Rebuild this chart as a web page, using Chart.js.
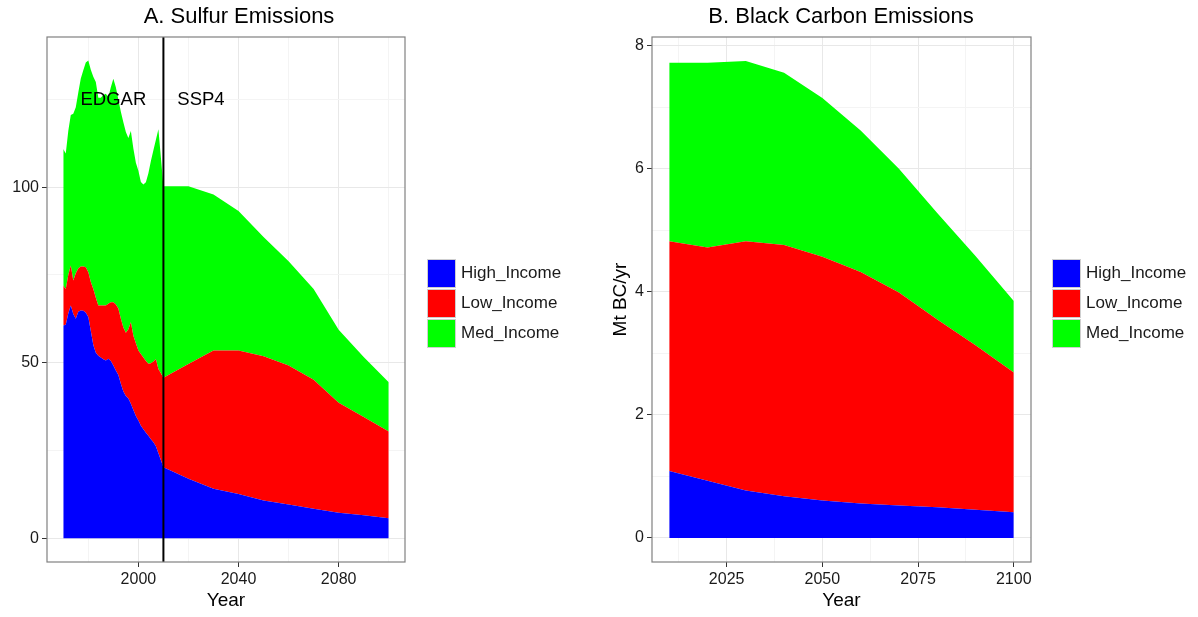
<!DOCTYPE html>
<html>
<head>
<meta charset="utf-8">
<title>Sulfur and Black Carbon Emissions</title>
<script src="https://cdn.jsdelivr.net/npm/chart.js@4.4.1/dist/chart.umd.min.js"></script>
<style>
  body { margin: 0; background: #fff; width: 1198px; height: 617px; position: relative; overflow: hidden;
         font-family: 'Liberation Sans', Arial, sans-serif; }
  canvas { position: absolute; top: 0; }
  #sulfurChart { left: 0; }
  #carbonChart { left: 590px; }
  .legend { position: absolute; top: 258px; }
  .legend .item { display: flex; align-items: center; height: 30px; }
  .legend .swatch { width: 29px; height: 29px; box-sizing: border-box; border: 1px solid #cfcfcf; }
  .legend .label { margin-left: 5px; font-size: 17px; color: #1a1a1a; }
</style>
</head>
<body>
<canvas id="sulfurChart" width="478" height="617"></canvas>
<canvas id="carbonChart" width="502" height="617"></canvas>
<div class="legend" id="sulfurLegend" style="left:427px"></div>
<div class="legend" id="carbonLegend" style="left:1052px"></div>
<script>
const seriesNames  = ['High_Income', 'Low_Income', 'Med_Income'];
const seriesColors = ['#0000ff', '#ff0000', '#00ff00'];

// Sulfur: EDGAR yearly history 1970-2008, then SSP4 by decade
const sulfurYears = [1970, 1971, 1972, 1973, 1974, 1975, 1976, 1977, 1978, 1979,
                     1980, 1981, 1982, 1983, 1984, 1985, 1986, 1987, 1988, 1989,
                     1990, 1991, 1992, 1993, 1994, 1995, 1996, 1997, 1998, 1999,
                     2000, 2001, 2002, 2003, 2004, 2005, 2006, 2007, 2008,
                     2010, 2020, 2030, 2040, 2050, 2060, 2070, 2080, 2090, 2100];
const sulfurHigh = [60.6, 60.8, 64.0, 66.3, 63.9, 62.5, 64.5, 64.9, 64.8, 64.2,
                    63.0, 59.0, 55.0, 52.8, 52.0, 51.5, 51.0, 50.6, 51.1, 50.5,
                    49.2, 47.8, 46.5, 44.0, 41.8, 40.5, 39.8, 38.3, 36.5, 34.8,
                    33.5, 32.0, 31.0, 30.0, 29.2, 28.2, 27.3, 26.2, 24.2,
                    20.2, 16.9, 14.1, 12.6, 10.7, 9.6, 8.4, 7.2, 6.5, 5.7];
const sulfurLow  = [11.4, 10.2, 11.0, 11.4, 9.5, 13.0, 12.3, 12.5, 12.6, 13.0,
                    12.8, 14.0, 16.0, 15.7, 14.3, 14.8, 15.3, 15.7, 15.7, 16.7,
                    18.0, 18.8, 18.9, 18.5, 18.2, 18.0, 19.7, 23.2, 21.2, 20.7,
                    20.0, 20.5, 20.5, 20.5, 20.5, 21.6, 23.0, 24.8, 24.0,
                    25.5, 32.7, 39.4, 40.9, 41.1, 39.6, 36.7, 31.4, 28.0, 24.7];
const sulfurMed  = [38.9, 38.6, 41.0, 42.9, 47.5, 47.3, 50.2, 53.6, 55.9, 58.3,
                    60.3, 60.5, 60.5, 61.5, 59.2, 59.2, 60.0, 60.3, 58.8, 61.3,
                    63.7, 61.9, 59.6, 59.0, 58.5, 57.2, 54.5, 54.5, 53.3, 51.5,
                    51.2, 49.0, 49.3, 50.9, 54.3, 57.7, 60.2, 62.5, 68.3,
                    54.6, 50.7, 44.4, 39.7, 34.0, 29.7, 25.9, 20.8, 17.1, 14.0];
const sulfurXTicks = [1980, 2000, 2020, 2040, 2060, 2080, 2100];
const sulfurXMajor = [2000, 2040, 2080];
const sulfurYTicks = [0, 25, 50, 75, 100, 125];
const sulfurYMajor = [0, 50, 100];

// Black carbon, SSP4
const carbonYears = [2010, 2020, 2030, 2040, 2050, 2060, 2070, 2080, 2090, 2100];
const carbonHigh  = [1.09, 0.93, 0.77, 0.68, 0.61, 0.56, 0.53, 0.50, 0.46, 0.42];
const carbonLow   = [3.73, 3.79, 4.05, 4.08, 3.96, 3.76, 3.46, 3.05, 2.67, 2.27];
const carbonMed   = [2.90, 3.00, 2.93, 2.80, 2.58, 2.30, 2.01, 1.73, 1.45, 1.16];
const carbonXTicks = [2012.5, 2025, 2037.5, 2050, 2062.5, 2075, 2087.5, 2100];
const carbonXMajor = [2025, 2050, 2075, 2100];
const carbonYTicks = [0, 1, 2, 3, 4, 5, 6, 7, 8];
const carbonYMajor = [0, 2, 4, 6, 8];

const FONT = "'Liberation Sans', Arial, sans-serif";
const TEXT = '#1a1a1a';

// grey frame around the plotting panel, plus the panel heading
const panelFrame = {
  id: 'panelFrame',
  afterDraw(chart, args, opts) {
    const {ctx, chartArea: a} = chart;
    ctx.save();
    ctx.strokeStyle = '#808080';
    ctx.lineWidth = 1.2;
    ctx.strokeRect(a.left, a.top, a.right - a.left, a.bottom - a.top);
    ctx.fillStyle = '#000';
    ctx.font = '22px ' + FONT;
    ctx.textAlign = 'center';
    ctx.textBaseline = 'middle';
    ctx.fillText(opts.text, opts.x, 17);
    ctx.restore();
  }
};

// divider between the historical and scenario periods
const periodMarks = {
  id: 'periodMarks',
  afterDatasetsDraw(chart) {
    const {ctx, chartArea: a, scales: {x, y}} = chart;
    const px = x.getPixelForValue(2010);
    ctx.save();
    ctx.strokeStyle = '#000';
    ctx.lineWidth = 2;
    ctx.beginPath();
    ctx.moveTo(px, a.top);
    ctx.lineTo(px, a.bottom);
    ctx.stroke();
    ctx.fillStyle = '#000';
    ctx.font = '18.5px ' + FONT;
    ctx.textAlign = 'center';
    ctx.textBaseline = 'middle';
    ctx.fillText('EDGAR', x.getPixelForValue(1990), y.getPixelForValue(125));
    ctx.fillText('SSP4', x.getPixelForValue(2025), y.getPixelForValue(125));
    ctx.restore();
  }
};

function axis(ticks, major, min, max, extra) {
  return Object.assign({
    type: 'linear', min, max,
    afterBuildTicks: ax => { ax.ticks = ticks.map(v => ({value: v})); },
    ticks: {
      autoSkip: false, maxRotation: 0, padding: 3,
      font: {size: 16, family: FONT}, color: TEXT,
      callback: v => major.includes(v) ? String(v) : ''
    },
    grid: {
      color: c => major.includes(c.tick.value) ? '#e8e8e8' : '#f4f4f4',
      tickColor: c => major.includes(c.tick.value) ? '#333' : 'rgba(0,0,0,0)',
      tickLength: 5, lineWidth: 1
    },
    border: {display: false}
  }, extra);
}

function emissionsChart(id, cfg) {
  const values = [cfg.high, cfg.low, cfg.med];
  return new Chart(document.getElementById(id), {
    type: 'line',
    data: {
      datasets: seriesNames.map((name, i) => ({
        label: name,
        data: cfg.years.map((yr, j) => ({x: yr, y: values[i][j]})),
        backgroundColor: seriesColors[i],
        borderWidth: 0,
        pointRadius: 0,
        tension: 0,
        fill: i === 0 ? 'origin' : '-1'
      }))
    },
    options: {
      responsive: false,
      animation: false,
      layout: {padding: {left: 0, top: 37, bottom: 0, right: cfg.padRight}},
      plugins: {
        legend: {display: false},
        tooltip: {enabled: false},
        panelFrame: {text: cfg.title, x: cfg.titleX}
      },
      scales: {
        x: axis(cfg.xTicks, cfg.xMajor, cfg.xMin, cfg.xMax, {
          title: {display: true, text: 'Year', color: '#000',
                  font: {size: 19, family: FONT}, padding: {top: 0, bottom: 5}},
          afterFit: s => { s.height = 55; }
        }),
        y: axis(cfg.yTicks, cfg.yMajor, cfg.yMin, cfg.yMax, {
          stacked: true,
          title: cfg.yTitle ? {display: true, text: cfg.yTitle, color: '#000',
                  font: {size: 19, family: FONT}, padding: {top: 19, bottom: 0}} : {display: false},
          afterFit: s => { s.width = cfg.yWidth; }
        })
      }
    },
    plugins: cfg.extra ? [panelFrame, cfg.extra] : [panelFrame]
  });
}

function buildLegend(id) {
  const box = document.getElementById(id);
  seriesNames.forEach((name, i) => {
    const item = document.createElement('div');
    item.className = 'item';
    item.innerHTML = '<div class="swatch" style="background:' + seriesColors[i] + '"></div>' +
                     '<span class="label">' + name + '</span>';
    box.appendChild(item);
  });
}

emissionsChart('sulfurChart', {
  title: 'A. Sulfur Emissions', titleX: 239,
  years: sulfurYears, high: sulfurHigh, low: sulfurLow, med: sulfurMed,
  xTicks: sulfurXTicks, xMajor: sulfurXMajor, xMin: 1963.5, xMax: 2106.5,
  yTicks: sulfurYTicks, yMajor: sulfurYMajor, yMin: -6.8, yMax: 142.8,
  yWidth: 47, padRight: 73, extra: periodMarks
});

emissionsChart('carbonChart', {
  title: 'B. Black Carbon Emissions', titleX: 251,
  years: carbonYears, high: carbonHigh, low: carbonLow, med: carbonMed,
  xTicks: carbonXTicks, xMajor: carbonXMajor, xMin: 2005.5, xMax: 2104.5,
  yTicks: carbonYTicks, yMajor: carbonYMajor, yMin: -0.39, yMax: 8.14,
  yWidth: 62, padRight: 61, yTitle: 'Mt BC/yr'
});

buildLegend('sulfurLegend');
buildLegend('carbonLegend');
</script>
</body>
</html>
